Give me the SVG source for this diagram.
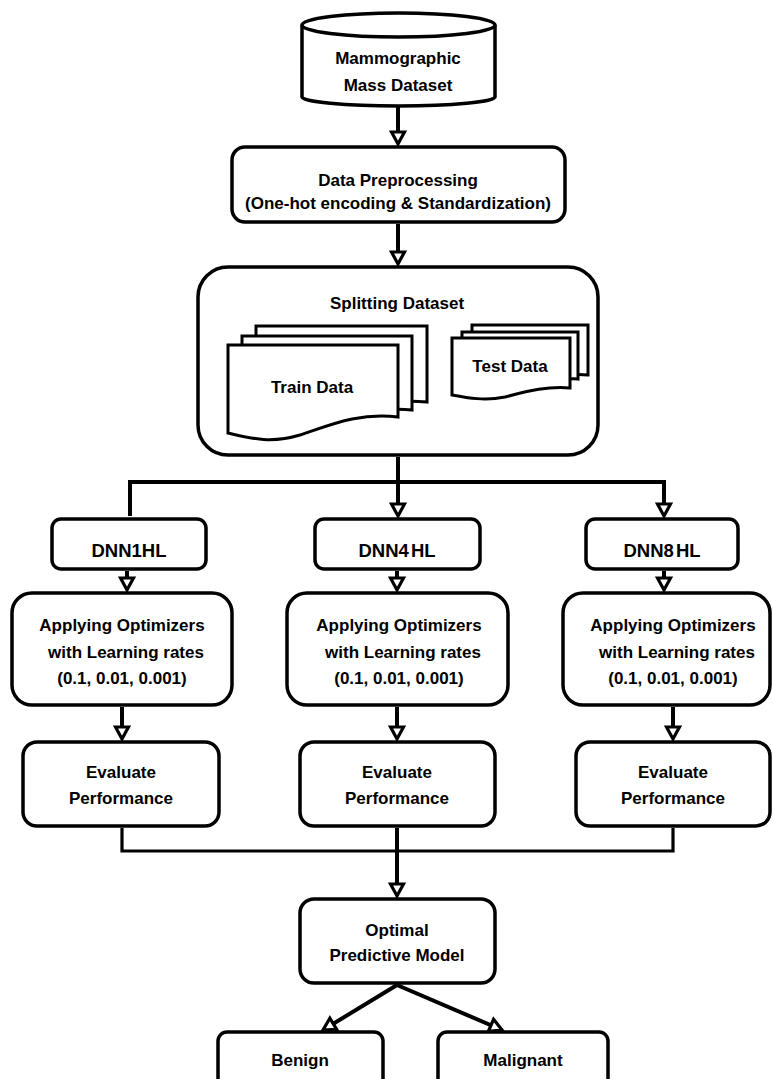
<svg xmlns="http://www.w3.org/2000/svg" width="773" height="1079" viewBox="0 0 773 1079">
<style>
.box{fill:#fff;stroke:#000;stroke-width:3.5;stroke-linejoin:round}
.doc{fill:#fff;stroke:#000;stroke-width:3;stroke-linejoin:miter}
.t{font-family:"Liberation Sans",Arial,sans-serif;font-weight:bold;font-size:17px;fill:#000;text-anchor:middle}
.dnn{font-size:18.5px}
.c{fill:none;stroke:#000;stroke-width:4}
.c2{fill:none;stroke:#000;stroke-width:3.2}
</style>
<defs>
<marker id="ah" viewBox="-3 -3 19 19" refX="12" refY="6.5" markerWidth="19" markerHeight="19" markerUnits="userSpaceOnUse" orient="auto">
<path d="M0,0 L12,6.5 L0,13 Z" fill="#fff" stroke="#000" stroke-width="3.2" stroke-linejoin="miter"/>
</marker>
</defs>
<rect width="773" height="1079" fill="#fff"/>

<g id="connectors">
<line class="c" x1="398" y1="106" x2="398" y2="144" marker-end="url(#ah)"/>
<line class="c" x1="398" y1="224" x2="398" y2="264" marker-end="url(#ah)"/>
<polyline class="c" points="398,457 398,482"/>
<polyline class="c" points="130,516 130,482 664,482 664,516" marker-end="url(#ah)"/>
<line class="c" x1="398" y1="482" x2="398" y2="516" marker-end="url(#ah)"/>
<line class="c" x1="127" y1="571" x2="127" y2="590" marker-end="url(#ah)"/>
<line class="c" x1="397" y1="571" x2="397" y2="590" marker-end="url(#ah)"/>
<line class="c" x1="664" y1="571" x2="664" y2="590" marker-end="url(#ah)"/>
<line class="c" x1="122" y1="707" x2="122" y2="739" marker-end="url(#ah)"/>
<line class="c" x1="397" y1="707" x2="397" y2="739" marker-end="url(#ah)"/>
<line class="c" x1="673" y1="707" x2="673" y2="739" marker-end="url(#ah)"/>
<polyline class="c2" points="122,828 122,851 673,851 673,828"/>
<line class="c" x1="397" y1="828" x2="397" y2="896" marker-end="url(#ah)"/>
<line class="c" x1="397" y1="985" x2="323" y2="1030" marker-end="url(#ah)"/>
<line class="c" x1="397" y1="985" x2="502" y2="1030" marker-end="url(#ah)"/>
</g>

<g id="dataset">
<path class="box" d="M302,25 L302,97 A96.5,9 0 0 0 495,97 L495,25"/>
<ellipse class="box" cx="398.5" cy="25" rx="96.5" ry="12"/>
<text class="t" x="398" y="64">Mammographic</text>
<text class="t" x="398" y="91">Mass Dataset</text>
</g>

<g id="preprocessing">
<rect class="box" x="232" y="147" width="333" height="75" rx="13"/>
<text class="t" x="398" y="186">Data Preprocessing</text>
<text class="t" x="398" y="209">(One-hot encoding &amp; Standardization)</text>
</g>

<g id="splitting">
<rect class="box" x="198" y="267" width="400" height="188" rx="30"/>
<text class="t" x="397" y="309">Splitting Dataset</text>
<path class="doc" d="M256,326 H427 V402 C405,400 395,402 385,405 L256,405 Z"/>
<path class="doc" d="M242,336 H412 V410 C392,408 380,410 370,413 L242,413 Z"/>
<path class="doc" d="M228,345 H398 V417 C360,412 330,425 300,435 C270,444 250,438 228,433 Z"/>
<text class="t" x="312" y="393">Train Data</text>
<path class="doc" d="M472,325 H588 V375 C575,374 566,375 560,377 L472,377 Z"/>
<path class="doc" d="M462,332 H578 V379 C566,378 558,380 550,382 L462,382 Z"/>
<path class="doc" d="M452,338 H570 V388 C545,386 525,392 505,397 C485,401 468,398 452,395 Z"/>
<text class="t" x="510" y="372">Test Data</text>
</g>

<g id="dnn1">
<rect class="box" x="52" y="519" width="154" height="50" rx="9"/>
<text class="t dnn" x="129" y="557">DNN1HL</text>
</g>
<g id="dnn4">
<rect class="box" x="315" y="519" width="165" height="50" rx="9"/>
<text class="t dnn" x="397" y="557" word-spacing="-3">DNN4 HL</text>
</g>
<g id="dnn8">
<rect class="box" x="586" y="519" width="152" height="50" rx="9"/>
<text class="t dnn" x="662" y="557" word-spacing="-3">DNN8 HL</text>
</g>

<g id="opt1">
<rect class="box" x="12" y="593" width="220" height="112" rx="20"/>
<text class="t" x="122" y="631">Applying Optimizers</text>
<text class="t" x="126" y="658">with Learning rates</text>
<text class="t" x="122" y="684">(0.1, 0.01, 0.001)</text>
</g>
<g id="opt4">
<rect class="box" x="287" y="593" width="221" height="112" rx="20"/>
<text class="t" x="399" y="631">Applying Optimizers</text>
<text class="t" x="403" y="658">with Learning rates</text>
<text class="t" x="399" y="684">(0.1, 0.01, 0.001)</text>
</g>
<g id="opt8">
<rect class="box" x="563" y="593" width="207" height="112" rx="20"/>
<text class="t" x="673" y="631">Applying Optimizers</text>
<text class="t" x="677" y="658">with Learning rates</text>
<text class="t" x="673" y="684">(0.1, 0.01, 0.001)</text>
</g>

<g id="eval1">
<rect class="box" x="23" y="742" width="196" height="84" rx="14"/>
<text class="t" x="121" y="778">Evaluate</text>
<text class="t" x="121" y="804">Performance</text>
</g>
<g id="eval4">
<rect class="box" x="300" y="742" width="195" height="84" rx="14"/>
<text class="t" x="397" y="778">Evaluate</text>
<text class="t" x="397" y="804">Performance</text>
</g>
<g id="eval8">
<rect class="box" x="576" y="742" width="194" height="84" rx="14"/>
<text class="t" x="673" y="778">Evaluate</text>
<text class="t" x="673" y="804">Performance</text>
</g>

<g id="optimal">
<rect class="box" x="300" y="899" width="195" height="84" rx="14"/>
<text class="t" x="397" y="936">Optimal</text>
<text class="t" x="397" y="961">Predictive Model</text>
</g>

<g id="benign">
<rect class="box" x="218" y="1032" width="165" height="60" rx="9"/>
<text class="t" x="300" y="1066">Benign</text>
</g>
<g id="malignant">
<rect class="box" x="438" y="1032" width="170" height="60" rx="9"/>
<text class="t" x="523" y="1066">Malignant</text>
</g>
</svg>
